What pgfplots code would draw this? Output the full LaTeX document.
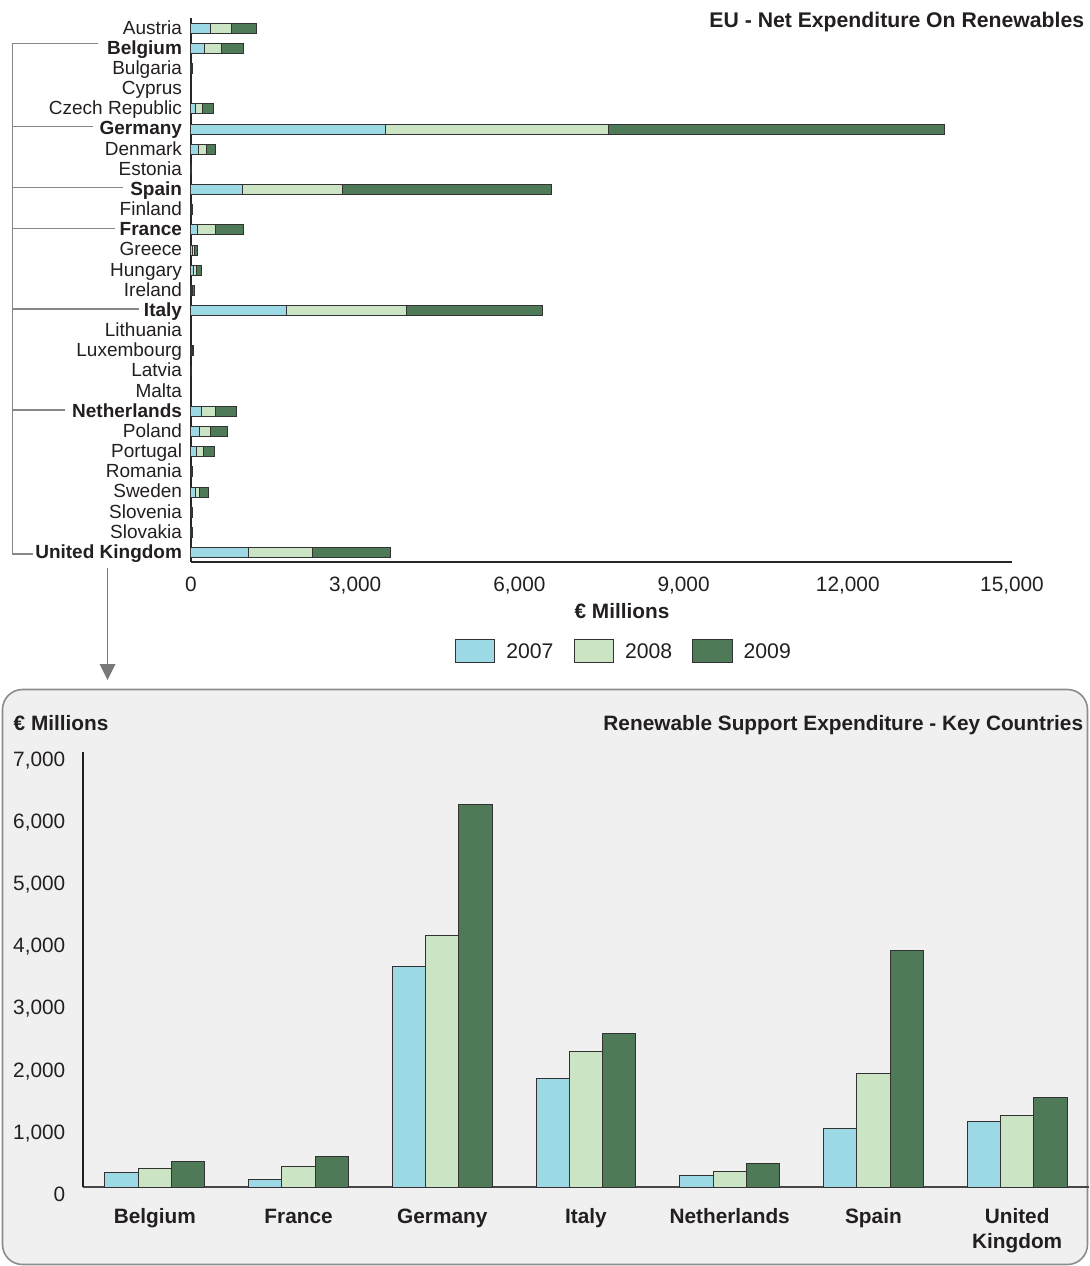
\documentclass[border=0pt]{standalone}
\usepackage{fontspec}
\setmainfont{Liberation Sans}
\usepackage{pgfplots}
\usepackage{pgfplotstable}
\pgfplotsset{compat=1.18}
\definecolor{c7}{RGB}{157,216,229}
\definecolor{c8}{RGB}{203,228,196}
\definecolor{c9}{RGB}{79,122,88}
\definecolor{barline}{RGB}{50,50,50}
\definecolor{panelfill}{RGB}{240,240,240}
\definecolor{panelline}{RGB}{140,140,140}
\definecolor{bracket}{RGB}{135,135,135}
\definecolor{txt}{RGB}{35,31,32}

% EU member states, stacked 2007/2008/2009 (EUR millions)
\pgfplotstableread{
idx y07 y08 y09
0 349 384 457
1 243 310 415
2 6 6 10
3 0 0 0
4 75 128 208
5 3560 4060 6155
6 143 146 152
7 4 5 8
8 940 1830 3812
9 5 6 9
10 120 335 500
11 25 30 65
12 40 54 98
13 10 15 30
14 1748 2190 2478
15 0 0 0
16 10 15 20
17 0 0 1
18 0 0 0
19 195 248 391
20 148 201 317
21 93 128 202
22 4 6 10
23 75 86 152
24 5 7 12
25 5 6 10
26 1058 1158 1438
}\eu

% Key countries
\pgfplotstableread{
idx y07 y08 y09
0 243 310 415
1 120 335 500
2 3560 4060 6155
3 1748 2190 2478
4 195 248 391
5 940 1830 3812
6 1058 1158 1438
}\key

\begin{document}
\begin{tikzpicture}
\useasboundingbox (0,0) rectangle (544.5pt,-633pt);
\begin{scope}[x=0.5pt,y=-0.5pt]
  \draw[panelline, line width=0.8pt, fill=panelfill, rounded corners=10pt] (2.5,689.5) rectangle (1087.5,1264.5);
\end{scope}

\begin{axis}[
  at={(95.5pt,-281pt)}, anchor=south west, scale only axis,
  width=410.5pt, height=272pt,
  xbar stacked, bar width=5pt,
  xmin=0, xmax=15000, ymin=-0.511, ymax=26.471, y dir=reverse,
  axis x line=bottom, axis y line=left,
  axis line style={-, line width=1pt, color=black!85},
  xtick={0,3000,...,15000}, scaled x ticks=false,
  /pgf/number format/assume math mode=true, /pgf/number format/1000 sep={,},
  xticklabel style={anchor=base, inner sep=0pt, yshift=-14.85pt, text=txt, font=\fontsize{10.4}{12}\selectfont},
  ytick={0,...,26},
  yticklabels={Austria,\textbf{Belgium},Bulgaria,Cyprus,Czech Republic,\textbf{Germany},Denmark,Estonia,\textbf{Spain},Finland,\textbf{France},Greece,Hungary,Ireland,\textbf{Italy},Lithuania,Luxembourg,Latvia,Malta,\textbf{Netherlands},Poland,Portugal,Romania,Sweden,Slovenia,Slovakia,\textbf{United Kingdom}},
  yticklabel style={anchor=base east, inner sep=0pt, xshift=-4.3pt, yshift=-2.9pt, text=txt, font=\fontsize{9.5}{11}\selectfont},
  major tick length=0pt,
  every axis plot/.append style={draw=barline, line width=0.5pt},
  legend columns=3,
  legend style={at={(axis description cs:0.526,-0.1637)}, anchor=center, draw=none, fill=none,
    font=\fontsize{10.6}{12}\selectfont, text=txt, nodes={inner sep=0pt},
    /tikz/every odd column/.append style={column sep=5.5pt},
    /tikz/every even column/.append style={column sep=10pt}},
  legend image code/.code={\draw[#1] (0pt,-5.15pt) rectangle (19.75pt,6.2pt);},
]
\addplot[fill=c7] table[x=y07, y=idx]{\eu};
\addplot[fill=c8] table[x=y08, y=idx]{\eu};
\addplot[fill=c9] table[x=y09, y=idx]{\eu};
\legend{2007,2008,2009}
\end{axis}

\begin{axis}[
  at={(41.5pt,-593.65pt)}, anchor=south west, scale only axis,
  width=503pt, height=217.5pt,
  ybar=0pt, bar width=16.65pt,
  xmin=-0.5, xmax=6.5, ymin=0, ymax=7000,
  axis x line=bottom, axis y line=left,
  axis line style={-},
  x axis line style={line width=1pt, color=black!72},
  y axis line style={line width=1pt, color=black!88},
  xtick={0,...,6},
  xticklabels={Belgium,France,Germany,Italy,Netherlands,Spain,{\begin{tabular}[t]{@{}c@{}}United\\Kingdom\end{tabular}}},
  xticklabel style={anchor=base, inner sep=0pt, yshift=-18.3pt, text=txt, font=\fontsize{10.4}{12.5}\selectfont\bfseries},
  ytick={0,1000,...,7000}, scaled y ticks=false,
  /pgf/number format/assume math mode=true, /pgf/number format/1000 sep={,},
  yticklabel style={anchor=base east, inner sep=0pt, xshift=-8.65pt, yshift=-7pt, text=txt, font=\fontsize{10.4}{12}\selectfont},
  major tick length=0pt,
  every axis plot/.append style={draw=barline, line width=0.5pt},
]
\addplot[fill=c7] table[x=idx, y=y07]{\key};
\addplot[fill=c8] table[x=idx, y=y08]{\key};
\addplot[fill=c9] table[x=idx, y=y09]{\key};
\end{axis}

\begin{scope}[x=0.5pt,y=-0.5pt]
  \node[anchor=base east, inner sep=0pt, text=txt, font=\fontsize{10.6}{12}\selectfont\bfseries] at (1084.5,27.5) {EU - Net Expenditure On Renewables};
  \node[anchor=base, inner sep=0pt, text=txt, font=\fontsize{10.4}{12}\selectfont\bfseries] at (622,618) {€ Millions};
  \node[anchor=base west, inner sep=0pt, text=txt, font=\fontsize{10.4}{12}\selectfont\bfseries] at (13.3,730) {€ Millions};
  \node[anchor=base east, inner sep=0pt, text=txt, font=\fontsize{10.4}{12}\selectfont\bfseries] at (1083.5,730) {Renewable Support Expenditure - Key Countries};
  % bracket
  \draw[bracket, line width=0.7pt] (98,43.3) -- (12.3,43.3) -- (12.3,554) -- (33,554);
  \draw[bracket, line width=0.7pt] (12.3,126.3) -- (93,126.3);
  \draw[bracket, line width=0.7pt] (12.3,187.3) -- (123,187.3);
  \draw[bracket, line width=0.7pt] (12.3,228.3) -- (115,228.3);
  \draw[bracket, line width=0.7pt] (12.3,309) -- (139,309);
  \draw[bracket, line width=0.7pt] (12.3,410) -- (65,410);
  % arrow
  \draw[bracket!90!black, line width=0.8pt] (107.6,568) -- (107.6,666);
  \fill[bracket!90!black] (99.6,664) -- (115.6,664) -- (107.6,680) -- cycle;
\end{scope}
\end{tikzpicture}
\end{document}
